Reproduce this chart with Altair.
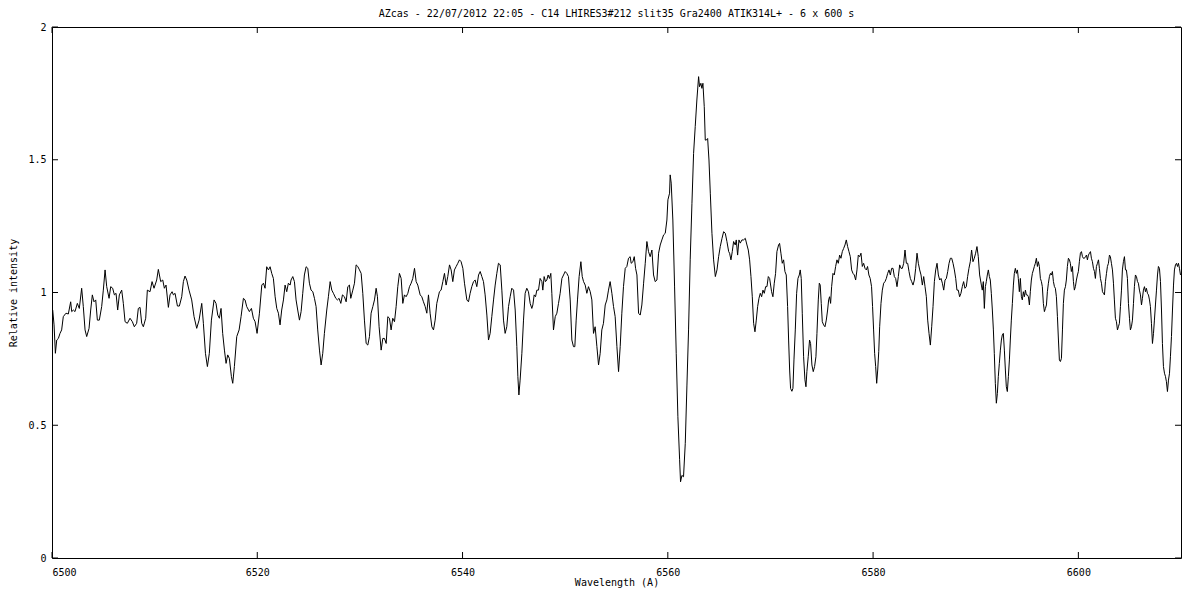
import altair as alt
import pandas as pd

title_text = "AZcas - 22/07/2012 22:05 - C14 LHIRES3#212 slit35 Gra2400 ATIK314L+ - 6 x 600 s"
x_ticks = [6500, 6520, 6540, 6560, 6580, 6600]
y_ticks = [0, 0.5, 1, 1.5, 2]

# (wavelength [A], relative intensity)
segment_a = [
    (6500.07, 0.934), (6500.20, 0.878), (6500.33, 0.771), (6500.46, 0.821), (6500.62, 0.827),
    (6500.78, 0.846), (6500.94, 0.859), (6501.10, 0.909), (6501.36, 0.922), (6501.59, 0.919),
    (6501.82, 0.965), (6501.92, 0.928), (6502.08, 0.934), (6502.24, 0.928), (6502.47, 0.959),
    (6502.66, 0.940), (6502.89, 1.016), (6503.05, 0.947), (6503.22, 0.859), (6503.38, 0.834),
    (6503.61, 0.865), (6503.77, 0.934), (6503.93, 0.991), (6504.09, 0.965), (6504.26, 0.972),
    (6504.42, 0.896), (6504.61, 0.896), (6504.84, 0.947), (6505.00, 1.009), (6505.17, 1.085),
    (6505.33, 1.022), (6505.56, 0.978), (6505.72, 1.022), (6505.91, 1.016), (6506.08, 0.991),
    (6506.24, 0.997), (6506.40, 0.934), (6506.56, 0.991), (6506.79, 1.009), (6506.95, 0.959),
    (6507.12, 0.890), (6507.34, 0.884), (6507.60, 0.903), (6507.83, 0.890), (6508.02, 0.871),
    (6508.25, 0.884), (6508.41, 0.940), (6508.58, 0.944), (6508.74, 0.884), (6508.90, 0.871),
    (6509.13, 0.903), (6509.29, 1.009), (6509.55, 1.003), (6509.75, 1.041), (6509.94, 1.016),
    (6510.20, 1.047), (6510.36, 1.087), (6510.59, 1.041), (6510.79, 1.047), (6510.95, 1.016),
    (6511.11, 1.028), (6511.34, 0.944), (6511.50, 0.991), (6511.70, 1.003), (6511.83, 0.991),
    (6511.99, 0.997), (6512.22, 0.949), (6512.41, 0.949), (6512.64, 0.984), (6512.80, 1.041),
    (6512.96, 1.062), (6513.13, 1.047), (6513.35, 1.009), (6513.61, 0.972), (6513.84, 0.909),
    (6514.10, 0.865), (6514.33, 0.896), (6514.59, 0.959), (6514.75, 0.884), (6514.95, 0.771),
    (6515.14, 0.721), (6515.33, 0.771), (6515.53, 0.896), (6515.79, 0.972), (6515.98, 0.959),
    (6516.15, 0.915), (6516.31, 0.903), (6516.47, 0.940), (6516.63, 0.846), (6516.80, 0.783),
    (6516.96, 0.733), (6517.12, 0.765), (6517.28, 0.752), (6517.48, 0.683), (6517.61, 0.658),
    (6517.77, 0.721), (6518.00, 0.834), (6518.23, 0.859), (6518.42, 0.909), (6518.65, 0.978),
    (6518.81, 0.972), (6518.97, 0.947), (6519.23, 0.928), (6519.43, 0.940), (6519.62, 0.903),
    (6519.79, 0.890), (6519.98, 0.846), (6520.21, 0.922), (6520.44, 1.028), (6520.60, 1.035),
    (6520.76, 1.016), (6520.92, 1.097), (6521.09, 1.085), (6521.25, 1.097), (6521.41, 1.072),
    (6521.57, 1.053), (6521.74, 0.984), (6521.90, 0.940), (6522.06, 0.922), (6522.22, 0.878),
    (6522.38, 0.934), (6522.55, 0.972), (6522.71, 1.028), (6522.87, 1.003), (6523.03, 1.035),
    (6523.20, 1.028),
]

segment_b = [
    (6523.29, 1.047), (6523.46, 1.060), (6523.62, 1.041), (6523.78, 0.972), (6523.94, 0.934),
    (6524.11, 0.896), (6524.27, 0.928), (6524.43, 0.997), (6524.59, 1.066), (6524.76, 1.097),
    (6524.92, 1.091), (6525.08, 1.035), (6525.24, 1.009), (6525.41, 1.003), (6525.57, 0.978),
    (6525.73, 0.947), (6525.89, 0.859), (6526.06, 0.783), (6526.22, 0.727), (6526.38, 0.771),
    (6526.54, 0.846), (6526.77, 0.934), (6526.93, 0.984), (6527.10, 1.041), (6527.26, 1.009),
    (6527.42, 0.997), (6527.65, 0.978), (6527.81, 0.972), (6527.97, 0.978), (6528.14, 0.959),
    (6528.30, 0.991), (6528.49, 0.984), (6528.66, 0.965), (6528.82, 1.022), (6528.98, 1.028),
    (6529.11, 0.978), (6529.31, 1.009), (6529.47, 1.035), (6529.63, 1.104), (6529.79, 1.098),
    (6529.96, 1.085), (6530.12, 1.072), (6530.28, 0.997), (6530.44, 0.896), (6530.61, 0.808),
    (6530.77, 0.802), (6530.93, 0.834), (6531.09, 0.922), (6531.26, 0.947), (6531.42, 0.972),
    (6531.58, 1.016), (6531.71, 0.984), (6531.87, 0.871), (6532.07, 0.783), (6532.23, 0.827),
    (6532.39, 0.827), (6532.56, 0.808), (6532.72, 0.909), (6532.88, 0.903), (6533.04, 0.859),
    (6533.20, 0.903), (6533.37, 0.890), (6533.53, 0.947), (6533.69, 1.022), (6533.85, 1.072),
    (6534.02, 1.053), (6534.18, 0.959), (6534.34, 0.991), (6534.50, 0.984), (6534.67, 0.997),
    (6534.83, 1.022), (6534.99, 1.035), (6535.15, 1.053), (6535.32, 1.091), (6535.48, 1.041),
    (6535.64, 1.028), (6535.87, 0.991), (6536.03, 0.984), (6536.19, 0.965), (6536.36, 0.947),
    (6536.52, 0.922), (6536.68, 0.991), (6536.84, 0.922), (6537.01, 0.871), (6537.17, 0.859),
    (6537.33, 0.896), (6537.49, 0.959), (6537.75, 1.003), (6537.91, 1.009), (6538.08, 1.041),
    (6538.24, 1.072), (6538.40, 1.028), (6538.56, 1.060), (6538.73, 1.104), (6538.89, 1.085),
    (6539.05, 1.041), (6539.21, 1.085), (6539.38, 1.098), (6539.54, 1.110), (6539.70, 1.123),
    (6539.86, 1.116), (6540.03, 1.091), (6540.19, 1.035), (6540.42, 0.972), (6540.58, 0.965),
    (6540.74, 0.997), (6540.90, 1.022), (6541.07, 1.041), (6541.23, 1.047), (6541.39, 1.022),
    (6541.56, 1.066), (6541.72, 1.079), (6541.88, 1.060), (6542.04, 1.041), (6542.20, 0.991),
    (6542.37, 0.915), (6542.53, 0.821), (6542.69, 0.846), (6542.85, 0.909), (6543.02, 0.972),
    (6543.18, 1.028), (6543.34, 1.072), (6543.50, 1.110), (6543.67, 1.104), (6543.83, 1.009),
    (6543.99, 0.896), (6544.15, 0.846), (6544.31, 0.871), (6544.48, 0.947), (6544.64, 0.984),
    (6544.80, 1.016), (6544.97, 1.009), (6545.13, 0.934), (6545.29, 0.796), (6545.39, 0.683),
    (6545.49, 0.614), (6545.61, 0.670), (6545.78, 0.771), (6545.94, 0.896), (6546.10, 0.997),
    (6546.26, 1.016), (6546.42, 1.003), (6546.59, 0.959),
]

segment_c = [
    (6546.75, 0.940), (6546.85, 0.953), (6546.98, 0.991), (6547.11, 0.984), (6547.24, 1.009),
    (6547.40, 1.009), (6547.56, 1.053), (6547.73, 1.041), (6547.82, 1.009), (6547.95, 1.060),
    (6548.08, 1.041), (6548.21, 1.047), (6548.34, 1.066), (6548.47, 1.053), (6548.60, 1.072),
    (6548.70, 0.997), (6548.86, 0.859), (6549.03, 0.909), (6549.19, 0.922), (6549.35, 0.959),
    (6549.51, 0.997), (6549.68, 1.053), (6549.84, 1.066), (6550.00, 1.079), (6550.16, 1.072),
    (6550.32, 1.060), (6550.49, 0.972), (6550.65, 0.821), (6550.81, 0.796), (6550.94, 0.796),
    (6551.07, 0.896), (6551.20, 0.972), (6551.36, 1.060), (6551.53, 1.116), (6551.66, 1.060),
    (6551.79, 1.041), (6551.95, 1.028), (6552.11, 0.997), (6552.27, 1.022), (6552.44, 1.003),
    (6552.60, 0.972), (6552.76, 0.846), (6552.92, 0.871), (6553.09, 0.796), (6553.25, 0.727),
    (6553.41, 0.771), (6553.57, 0.859), (6553.73, 0.884), (6553.90, 0.953), (6554.06, 0.972),
    (6554.22, 1.009), (6554.38, 1.041), (6554.55, 0.997), (6554.71, 0.947), (6554.87, 0.909),
    (6555.04, 0.796), (6555.20, 0.702), (6555.36, 0.796), (6555.52, 0.922), (6555.68, 1.022),
    (6555.85, 1.091), (6556.01, 1.098), (6556.17, 1.129), (6556.33, 1.135), (6556.43, 1.110),
    (6556.60, 1.116), (6556.73, 1.135), (6556.86, 1.091), (6556.99, 1.066), (6557.15, 0.922),
    (6557.31, 0.915), (6557.47, 0.953), (6557.64, 1.035), (6557.80, 1.110), (6557.96, 1.192),
    (6558.12, 1.154), (6558.28, 1.135), (6558.45, 1.160), (6558.61, 1.066), (6558.77, 1.041),
    (6558.94, 1.047), (6559.10, 1.148), (6559.26, 1.179), (6559.42, 1.198), (6559.59, 1.217),
    (6559.75, 1.223), (6559.91, 1.273), (6560.01, 1.349), (6560.17, 1.374), (6560.23, 1.443),
    (6560.33, 1.412), (6560.49, 1.273), (6560.66, 1.021), (6560.82, 0.771), (6560.98, 0.532),
    (6561.15, 0.370), (6561.24, 0.287), (6561.37, 0.311), (6561.53, 0.306), (6561.70, 0.432),
    (6561.86, 0.648), (6562.02, 0.859), (6562.18, 1.123), (6562.35, 1.336), (6562.51, 1.524),
    (6562.67, 1.625), (6562.83, 1.725), (6563.00, 1.813), (6563.09, 1.775), (6563.22, 1.788),
    (6563.32, 1.769), (6563.42, 1.788), (6563.55, 1.700), (6563.65, 1.574), (6563.75, 1.574),
    (6563.88, 1.580), (6564.01, 1.499), (6564.14, 1.374), (6564.30, 1.223), (6564.46, 1.123),
    (6564.63, 1.060), (6564.79, 1.085), (6564.95, 1.135), (6565.11, 1.173), (6565.28, 1.204),
    (6565.44, 1.229), (6565.60, 1.223), (6565.76, 1.192), (6565.93, 1.154), (6566.02, 1.148),
    (6566.15, 1.123), (6566.28, 1.154), (6566.41, 1.192), (6566.57, 1.179), (6566.67, 1.198),
    (6566.80, 1.141), (6566.93, 1.198), (6567.06, 1.186), (6567.22, 1.198), (6567.38, 1.198),
    (6567.55, 1.204), (6567.71, 1.179), (6567.84, 1.160), (6567.97, 1.123), (6568.10, 1.060),
    (6568.23, 0.984), (6568.36, 0.884), (6568.49, 0.852), (6568.62, 0.896), (6568.75, 0.947),
    (6568.88, 0.978), (6569.01, 0.997), (6569.14, 0.984), (6569.27, 1.009), (6569.40, 0.997),
    (6569.53, 1.022), (6569.66, 1.022), (6569.79, 1.060), (6569.92, 1.053),
]

segment_d = [
    (6570.11, 1.003), (6570.24, 0.984), (6570.37, 1.035), (6570.50, 1.072), (6570.63, 1.154),
    (6570.79, 1.179), (6570.89, 1.185), (6571.02, 1.148), (6571.15, 1.110), (6571.28, 1.123),
    (6571.41, 1.079), (6571.54, 1.066), (6571.67, 0.947), (6571.77, 0.821), (6571.87, 0.708),
    (6571.96, 0.639), (6572.09, 0.628), (6572.19, 0.639), (6572.29, 0.746), (6572.42, 0.859),
    (6572.55, 0.997), (6572.68, 1.053), (6572.81, 1.066), (6572.90, 1.085), (6573.00, 1.053),
    (6573.10, 0.922), (6573.23, 0.758), (6573.36, 0.671), (6573.46, 0.645), (6573.55, 0.702),
    (6573.68, 0.758), (6573.81, 0.821), (6573.91, 0.808), (6574.04, 0.727), (6574.17, 0.702),
    (6574.30, 0.721), (6574.43, 0.758), (6574.53, 0.846), (6574.66, 0.972), (6574.76, 1.035),
    (6574.85, 1.028), (6574.95, 0.959), (6575.05, 0.890), (6575.18, 0.878), (6575.31, 0.871),
    (6575.44, 0.896), (6575.57, 0.934), (6575.67, 0.972), (6575.76, 0.984), (6575.86, 0.959),
    (6575.96, 1.022), (6576.09, 1.072), (6576.22, 1.066), (6576.35, 1.098), (6576.48, 1.123),
    (6576.61, 1.110), (6576.74, 1.141), (6576.87, 1.129), (6577.00, 1.154), (6577.13, 1.166),
    (6577.26, 1.179), (6577.39, 1.198), (6577.52, 1.173), (6577.65, 1.154), (6577.78, 1.135),
    (6577.91, 1.085), (6578.04, 1.072), (6578.17, 1.066), (6578.30, 1.047), (6578.43, 1.085),
    (6578.56, 1.141), (6578.69, 1.135), (6578.82, 1.148), (6578.95, 1.098), (6579.08, 1.110),
    (6579.21, 1.091), (6579.34, 1.085), (6579.46, 1.098), (6579.59, 1.066), (6579.72, 1.053),
    (6579.85, 1.022), (6579.95, 0.947), (6580.05, 0.859), (6580.15, 0.771), (6580.25, 0.721),
    (6580.35, 0.658), (6580.45, 0.708), (6580.55, 0.777), (6580.64, 0.871), (6580.77, 0.959),
    (6580.90, 1.009), (6581.03, 1.035), (6581.16, 1.041), (6581.29, 1.053), (6581.42, 1.072),
    (6581.55, 1.085), (6581.68, 1.066), (6581.81, 1.091), (6581.94, 1.091), (6582.07, 1.060),
    (6582.20, 1.053), (6582.33, 1.022), (6582.46, 1.060), (6582.59, 1.104), (6582.72, 1.091),
    (6582.85, 1.091), (6582.98, 1.110), (6583.11, 1.160), (6583.24, 1.110), (6583.37, 1.110),
    (6583.50, 1.079), (6583.63, 1.053), (6583.76, 1.041), (6583.89, 1.028), (6584.02, 1.047),
    (6584.15, 1.091), (6584.28, 1.148), (6584.41, 1.110), (6584.54, 1.085), (6584.67, 1.066),
    (6584.80, 1.028), (6584.93, 1.060), (6585.06, 1.022), (6585.19, 0.984), (6585.32, 0.896),
    (6585.45, 0.846), (6585.58, 0.802), (6585.71, 0.871), (6585.84, 0.947), (6585.97, 1.041),
    (6586.10, 1.085), (6586.23, 1.110), (6586.36, 1.066), (6586.49, 1.047), (6586.62, 1.053),
    (6586.75, 1.035), (6586.88, 1.009), (6587.01, 1.047), (6587.14, 1.053), (6587.27, 1.079),
    (6587.40, 1.110), (6587.53, 1.129), (6587.66, 1.129), (6587.79, 1.110), (6587.92, 1.085),
    (6588.05, 1.053), (6588.17, 1.009), (6588.30, 1.009), (6588.43, 0.984), (6588.56, 0.997),
    (6588.69, 1.022), (6588.82, 1.041), (6588.95, 1.016), (6589.08, 1.022), (6589.21, 1.060),
    (6589.34, 1.091), (6589.47, 1.116), (6589.60, 1.160), (6589.73, 1.116), (6589.86, 1.129),
    (6589.99, 1.148), (6590.12, 1.173), (6590.25, 1.135), (6590.38, 1.066),
]

segment_e = [
    (6590.55, 1.028), (6590.64, 1.009), (6590.74, 1.041), (6590.84, 0.940), (6590.94, 1.022),
    (6591.03, 1.041), (6591.13, 1.066), (6591.23, 1.085), (6591.33, 1.060), (6591.42, 1.047),
    (6591.52, 0.997), (6591.62, 0.934), (6591.72, 0.859), (6591.81, 0.771), (6591.91, 0.658),
    (6592.01, 0.583), (6592.11, 0.620), (6592.20, 0.683), (6592.30, 0.733), (6592.40, 0.783),
    (6592.50, 0.821), (6592.59, 0.840), (6592.69, 0.846), (6592.79, 0.783), (6592.89, 0.708),
    (6592.98, 0.645), (6593.08, 0.627), (6593.18, 0.683), (6593.28, 0.746), (6593.37, 0.821),
    (6593.47, 0.896), (6593.57, 0.959), (6593.67, 1.028), (6593.76, 1.072), (6593.86, 1.091),
    (6593.96, 1.072), (6594.06, 1.085), (6594.15, 1.053), (6594.25, 1.003), (6594.35, 1.053),
    (6594.45, 0.984), (6594.54, 0.972), (6594.64, 1.003), (6594.74, 0.984), (6594.84, 1.009),
    (6594.93, 0.991), (6595.03, 0.991), (6595.13, 0.984), (6595.23, 0.953), (6595.32, 1.003),
    (6595.42, 1.047), (6595.52, 1.072), (6595.62, 1.085), (6595.71, 1.098), (6595.81, 1.110),
    (6595.91, 1.129), (6596.01, 1.098), (6596.10, 1.116), (6596.20, 1.098), (6596.30, 1.053),
    (6596.40, 1.041), (6596.49, 1.022), (6596.59, 0.959), (6596.69, 0.928), (6596.79, 0.940),
    (6596.89, 0.953), (6596.98, 1.003), (6597.08, 1.035), (6597.18, 1.060), (6597.28, 1.072),
    (6597.37, 1.066), (6597.47, 1.079), (6597.57, 1.041), (6597.67, 1.022), (6597.76, 1.016),
    (6597.86, 0.984), (6597.96, 0.909), (6598.06, 0.821), (6598.15, 0.746), (6598.25, 0.740),
    (6598.35, 0.752), (6598.45, 0.859), (6598.54, 0.959), (6598.64, 1.009), (6598.74, 1.022),
    (6598.83, 1.047), (6598.93, 1.098), (6599.03, 1.129), (6599.13, 1.123), (6599.22, 1.110),
    (6599.32, 1.079), (6599.42, 1.098), (6599.52, 1.041), (6599.61, 1.009), (6599.71, 1.022),
    (6599.81, 1.047), (6599.91, 1.066), (6600.00, 1.079), (6600.10, 1.116), (6600.20, 1.148),
    (6600.30, 1.154), (6600.40, 1.135), (6600.49, 1.129), (6600.59, 1.129), (6600.69, 1.135),
    (6600.79, 1.141), (6600.88, 1.123), (6600.98, 1.141), (6601.08, 1.148), (6601.18, 1.154),
    (6601.27, 1.129), (6601.37, 1.116), (6601.47, 1.091), (6601.57, 1.079), (6601.66, 1.053),
    (6601.76, 1.098), (6601.86, 1.110), (6601.96, 1.123), (6602.05, 1.091), (6602.15, 1.053),
    (6602.25, 1.035), (6602.35, 1.003), (6602.44, 0.997), (6602.54, 0.991), (6602.64, 1.041),
    (6602.74, 1.072), (6602.83, 1.098), (6602.93, 1.110), (6603.03, 1.141), (6603.12, 1.135),
    (6603.22, 1.110), (6603.32, 1.085), (6603.42, 1.035), (6603.51, 0.972), (6603.61, 0.903),
    (6603.71, 0.890), (6603.81, 0.859), (6603.90, 0.871), (6604.00, 0.884), (6604.10, 0.947),
    (6604.20, 1.009), (6604.29, 1.085), (6604.39, 1.116), (6604.49, 1.135), (6604.59, 1.085),
    (6604.68, 1.085), (6604.78, 1.053), (6604.88, 0.959), (6604.98, 0.903), (6605.07, 0.859),
    (6605.17, 0.871), (6605.27, 0.896), (6605.37, 0.959), (6605.46, 1.022), (6605.56, 1.066),
    (6605.66, 1.060), (6605.76, 1.041), (6605.85, 1.035), (6605.95, 1.009), (6606.05, 0.991),
    (6606.15, 0.953), (6606.24, 0.978), (6606.34, 1.009), (6606.44, 1.022), (6606.54, 1.003),
    (6606.63, 1.016), (6606.73, 0.997), (6606.83, 0.991), (6606.93, 0.972), (6607.02, 0.947),
    (6607.12, 0.884), (6607.22, 0.808), (6607.32, 0.846), (6607.41, 0.896), (6607.51, 0.953),
    (6607.61, 1.009), (6607.71, 1.066), (6607.80, 1.098), (6607.90, 1.091), (6608.00, 1.041),
    (6608.10, 0.934), (6608.19, 0.808), (6608.29, 0.721), (6608.39, 0.696), (6608.49, 0.683),
    (6608.58, 0.664), (6608.68, 0.627), (6608.78, 0.670), (6608.88, 0.696), (6608.97, 0.758),
    (6609.07, 0.834), (6609.17, 0.934), (6609.27, 1.028), (6609.36, 1.085), (6609.46, 1.104),
    (6609.56, 1.110), (6609.66, 1.098), (6609.75, 1.110), (6609.85, 1.091), (6609.95, 1.066),
]

rows = [
    {"wavelength": w, "intensity": v}
    for seg in (segment_a, segment_b, segment_c, segment_d, segment_e)
    for w, v in seg
]
df = pd.DataFrame(rows)
xt = pd.DataFrame({"wavelength": x_ticks})
yt = pd.DataFrame({"intensity": y_ticks})

W, H = 1129, 531
TICK = 6
FONT = "DejaVu Sans Mono"

xscale = alt.Scale(domain=[6500, 6610], nice=False, zero=False)
yscale = alt.Scale(domain=[0, 2], nice=False, zero=False)
xaxis = alt.Axis(values=x_ticks, title="Wavelength (A)", format="d",
                 labelPadding=9, titlePadding=0, tickSize=0, ticks=False, domain=False, grid=False)
yaxis = alt.Axis(values=y_ticks, title="Relative intensity", format="~g",
                 labelPadding=6, titlePadding=9, tickSize=0, ticks=False, domain=False, grid=False)

X = alt.X("wavelength:Q", scale=xscale, axis=xaxis)
Y = alt.Y("intensity:Q", scale=yscale, axis=yaxis)

line = alt.Chart(df).mark_line(color="black", strokeWidth=1, clip=True).encode(x=X, y=Y)

tick_bottom = alt.Chart(xt).mark_rule(color="black", strokeWidth=1).encode(
    x=X, y=alt.value(H), y2=alt.value(H - TICK))
tick_top = alt.Chart(xt).mark_rule(color="black", strokeWidth=1).encode(
    x=X, y=alt.value(0), y2=alt.value(TICK))
tick_left = alt.Chart(yt).mark_rule(color="black", strokeWidth=1).encode(
    y=Y, x=alt.value(0), x2=alt.value(TICK))
tick_right = alt.Chart(yt).mark_rule(color="black", strokeWidth=1).encode(
    y=Y, x=alt.value(W), x2=alt.value(W - TICK))

chart = (
    alt.layer(line, tick_bottom, tick_top, tick_left, tick_right)
    .properties(
        width=W,
        height=H,
        title=alt.TitleParams(text=title_text, font=FONT, fontSize=10, fontWeight="normal",
                              color="black", anchor="middle", offset=3),
        autosize=alt.AutoSizeParams(type="none"),
        padding={"left": 44, "top": 19, "right": 10, "bottom": 30},
        background="white",
    )
    .configure_view(stroke="black", strokeWidth=1)
    .configure_axis(labelFont=FONT, labelFontSize=10, titleFont=FONT, titleFontSize=10,
                    titleFontWeight="normal", labelColor="black", titleColor="black")
)

chart.save("out.html", embed_options={"renderer": "svg", "actions": False})
